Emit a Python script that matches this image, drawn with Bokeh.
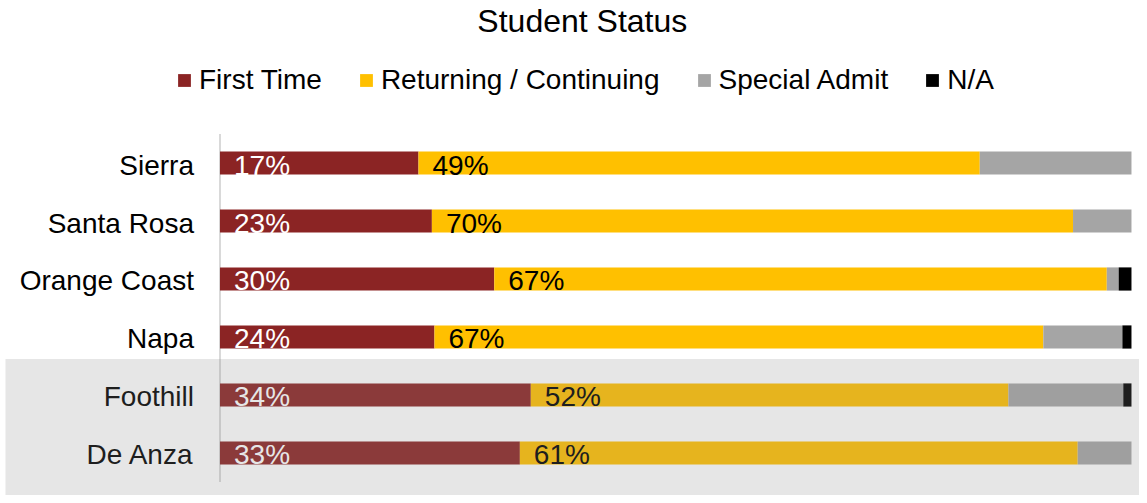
from bokeh.plotting import figure
from bokeh.models import Range1d, BoxAnnotation, Legend, LegendItem, ColumnDataSource
from bokeh.core.properties import value
from bokeh.embed import file_html
from bokeh.resources import INLINE

colleges = ["Sierra", "Santa Rosa", "Orange Coast", "Napa", "Foothill", "De Anza"]
first_time = [17.4, 23.2, 30.0, 23.6, 34.1, 32.9]
returning = [49.2, 70.2, 67.0, 67.0, 52.4, 61.2]
special_admit = [13.3, 6.4, 1.3, 8.7, 12.6, 5.9]
not_avail = [0.0, 0.0, 1.4, 1.0, 0.9, 0.0]
series_names = ["First Time", "Returning / Continuing", "Special Admit", "N/A"]
colors = ["#8B2424", "#FFC000", "#A5A5A5", "#000000"]

FONT = "Liberation Sans"

ypos = list(range(len(colleges) - 1, -1, -1))  # Sierra at top

# normalize each row to 100%
series = [first_time, returning, special_admit, not_avail]
totals = [sum(s[i] for s in series) for i in range(len(colleges))]
norm = [[s[i] / totals[i] * 100 for i in range(len(colleges))] for s in series]

p = figure(width=1139, height=495, output_backend="svg", toolbar_location=None,
           x_range=Range1d(-24.08, 100.88), y_range=Range1d(-0.733, 7.802),
           x_axis_location=None, y_axis_location=None, min_border=0)
p.grid.visible = False
p.outline_line_color = None
p.background_fill_color = "white"
p.border_fill_color = "white"

# vertical axis line
p.segment(x0=[0], y0=[-0.5], x1=[0], y1=[5.5], line_color="#D9D9D9", line_width=2)

renderers = []
left = [0.0] * len(colleges)
for k, (name, col) in enumerate(zip(series_names, colors)):
    right = [left[i] + norm[k][i] for i in range(len(colleges))]
    src = ColumnDataSource(dict(y=ypos, left=left, right=right))
    r = p.hbar(y="y", left="left", right="right", height=0.4, source=src,
               fill_color=col, line_color=None)
    renderers.append(r)
    if k < 2:
        labels = [f"{round(v)}%" for v in series[k]]
        lsrc = ColumnDataSource(dict(x=left, y=ypos, t=labels))
        p.text(x="x", y="y", text="t", source=lsrc, x_offset=14, y_offset=2,
               text_align="left", text_baseline="middle",
               text_font=value(FONT), text_font_size="28px",
               text_color="white" if k == 0 else "black")
    left = right

# category labels
csrc = ColumnDataSource(dict(x=[-2.85] * len(colleges), y=ypos, t=colleges))
p.text(x="x", y="y", text="t", source=csrc, text_align="right",
       text_baseline="middle", text_font=value(FONT), text_font_size="28px",
       text_color="black", y_offset=2)

# title
p.text(x=[39.75], y=[7.45], text=["Student Status"], text_align="center",
       text_baseline="middle", text_font=value(FONT), text_font_size="32px",
       text_color="black")

# shaded band for Foothill / De Anza
p.add_layout(BoxAnnotation(top=1.62, left=-23.53, fill_color="#8B8B8B", fill_alpha=0.216,
                           line_color=None))

legend = Legend(items=[LegendItem(label=n, renderers=[r]) for n, r in zip(series_names, renderers)],
                orientation="horizontal", location=(176, 399),
                label_text_font=FONT, label_text_font_size="28px", label_text_color="black",
                glyph_width=16, glyph_height=16, label_standoff=7, spacing=36,
                padding=0, margin=0, border_line_color=None, background_fill_alpha=0)
p.add_layout(legend)

open("out.html", "w").write(file_html(p, INLINE))
